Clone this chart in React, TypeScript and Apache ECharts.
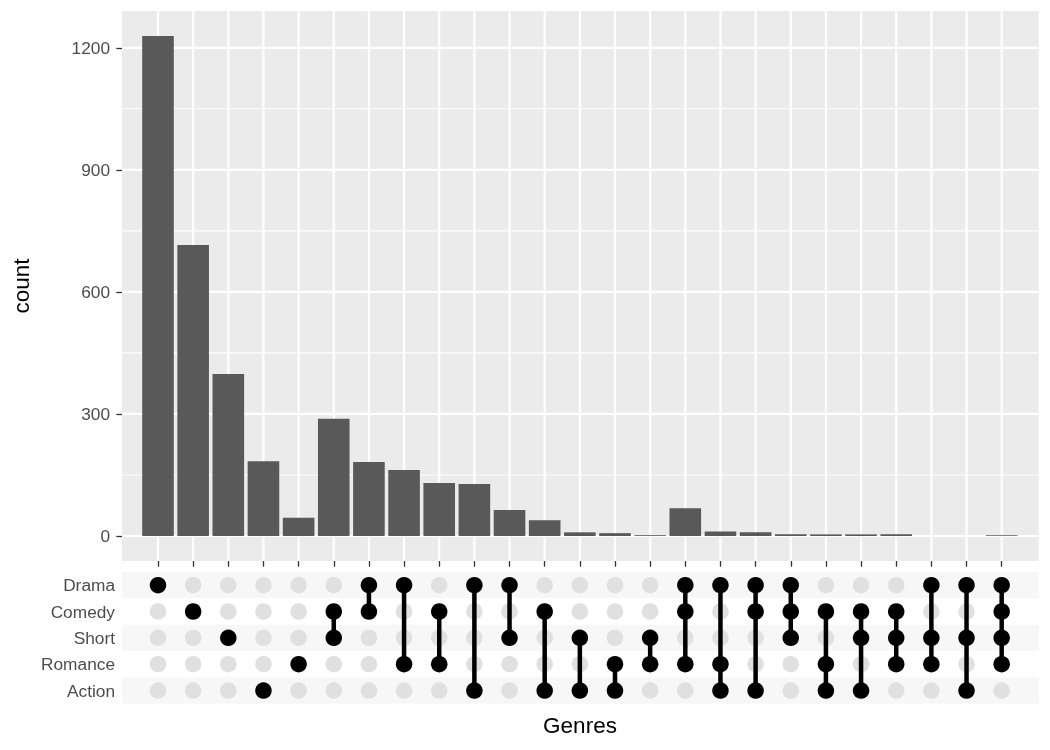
import React, { useEffect, useRef } from 'react';
import * as echarts from 'echarts';

const genres = ['Drama', 'Comedy', 'Short', 'Romance', 'Action'];
const counts = [1229, 715, 398, 184, 45, 288, 182, 162, 130, 128, 64, 39, 9, 7, 2, 68, 11, 9, 4, 4, 4, 4, 0, 0, 2];
const combos = [
  ['Drama'], ['Comedy'], ['Short'], ['Action'], ['Romance'],
  ['Comedy', 'Short'], ['Drama', 'Comedy'], ['Drama', 'Romance'], ['Comedy', 'Romance'],
  ['Drama', 'Action'], ['Drama', 'Short'], ['Comedy', 'Action'], ['Short', 'Action'],
  ['Romance', 'Action'], ['Short', 'Romance'],
  ['Drama', 'Comedy', 'Romance'], ['Drama', 'Romance', 'Action'], ['Drama', 'Comedy', 'Action'],
  ['Drama', 'Comedy', 'Short'], ['Comedy', 'Romance', 'Action'], ['Comedy', 'Short', 'Action'],
  ['Comedy', 'Short', 'Romance'], ['Drama', 'Short', 'Romance'], ['Drama', 'Short', 'Action'],
  ['Drama', 'Comedy', 'Short', 'Romance'],
];
const yTicks = [0, 300, 600, 900, 1200];
const yMinor = [150, 450, 750, 1050];

const FONT = '"Liberation Sans", Arial, Helvetica, sans-serif';

export default function App() {
  const ref = useRef<HTMLDivElement>(null);
  useEffect(() => {
    if (!ref.current) return;
    const chart = echarts.init(ref.current, null, { renderer: 'svg' });
    const cols = counts.map((_, i) => i + 1);
    const xMin = -0.024;
    const xMax = 26.053;

    const grayDots: number[][] = [];
    const blackDots: number[][] = [];
    const segs: number[][] = [];
    combos.forEach((set, i) => {
      const idx: number[] = [];
      genres.forEach((g, j) => {
        if (set.includes(g)) { blackDots.push([i + 1, j]); idx.push(j); }
        else grayDots.push([i + 1, j]);
      });
      if (idx.length > 1) segs.push([i + 1, Math.min(...idx), Math.max(...idx)]);
    });

    const option: any = {
      animation: false,
      textStyle: { fontFamily: FONT },
      grid: [
        { left: 122, top: 11, width: 916.7, height: 550, show: true, backgroundColor: '#EBEBEB', borderWidth: 0 },
        { left: 122, top: 572, width: 916.7, height: 131.7, show: false },
      ],
      xAxis: [
        {
          type: 'value', gridIndex: 0, min: xMin, max: xMax,
          axisLine: { show: false, onZero: false },
          axisTick: { show: true, customValues: cols, length: 5.7, lineStyle: { color: '#333333', width: 1.3 } },
          axisLabel: { show: false },
          splitLine: { show: false },
        },
        {
          type: 'value', gridIndex: 1, min: xMin, max: xMax, show: false,
          axisLine: { onZero: false }, splitLine: { show: false },
        },
      ],
      yAxis: [
        {
          type: 'value', gridIndex: 0, min: -61.45, max: 1290.45,
          axisLine: { show: false, onZero: false },
          axisTick: { show: true, customValues: yTicks, length: 5.7, lineStyle: { color: '#333333', width: 1.3 } },
          axisLabel: {
            show: true, customValues: yTicks, margin: 12, color: '#4D4D4D', fontSize: 17.3, fontFamily: FONT,
            formatter: (v: number) => String(v),
          },
          splitLine: { show: false },
        },
        {
          type: 'category', gridIndex: 1, data: genres, inverse: true,
          axisLine: { show: false }, axisTick: { show: false },
          axisLabel: { color: '#4D4D4D', fontSize: 17.3, margin: 7, fontFamily: FONT },
          splitLine: { show: false },
          splitArea: { show: true, areaStyle: { color: ['#F7F7F7', '#FFFFFF'] } },
        },
      ],
      series: [
        {
          type: 'custom', xAxisIndex: 0, yAxisIndex: 0, silent: true, z: 1,
          data: cols.map((c) => [c, 0]),
          encode: { x: 0, y: 1 },
          renderItem: (params: any, api: any) => {
            const cs = params.coordSys;
            const x = api.coord([api.value(0), 0])[0];
            return { type: 'line', shape: { x1: x, y1: cs.y, x2: x, y2: cs.y + cs.height }, style: { stroke: '#FFFFFF', lineWidth: 2.2 } };
          },
        },
        {
          type: 'custom', xAxisIndex: 0, yAxisIndex: 0, silent: true, z: 1,
          data: [...yTicks.map((v) => [1, v, 2.2]), ...yMinor.map((v) => [1, v, 1.1])],
          encode: { x: 0, y: 1 },
          renderItem: (params: any, api: any) => {
            const cs = params.coordSys;
            const y = api.coord([1, api.value(1)])[1];
            return { type: 'line', shape: { x1: cs.x, y1: y, x2: cs.x + cs.width, y2: y }, style: { stroke: '#FFFFFF', lineWidth: api.value(2) } };
          },
        },
        {
          type: 'bar', xAxisIndex: 0, yAxisIndex: 0, z: 3,
          data: counts.map((v, i) => [i + 1, v]),
          barWidth: 31.6,
          itemStyle: { color: '#595959' },
          silent: true,
        },
        {
          type: 'scatter', xAxisIndex: 1, yAxisIndex: 1, z: 2,
          data: grayDots, symbolSize: 16.5, itemStyle: { color: '#E0E0E0', opacity: 1 }, silent: true,
        },
        {
          type: 'custom', xAxisIndex: 1, yAxisIndex: 1, z: 3, silent: true,
          data: segs,
          encode: { x: 0, y: [1, 2] },
          renderItem: (params: any, api: any) => {
            const p1 = api.coord([api.value(0), api.value(1)]);
            const p2 = api.coord([api.value(0), api.value(2)]);
            return { type: 'line', shape: { x1: p1[0], y1: p1[1], x2: p2[0], y2: p2[1] }, style: { stroke: '#000000', lineWidth: 4.5 } };
          },
        },
        {
          type: 'scatter', xAxisIndex: 1, yAxisIndex: 1, z: 4,
          data: blackDots, symbolSize: 16.5, itemStyle: { color: '#000000', opacity: 1 }, silent: true,
        },
      ],
      graphic: [
        {
          type: 'text', x: 21, y: 286, rotation: Math.PI / 2,
          style: { text: 'count', fill: '#000000', fontSize: 22.5, fontFamily: FONT, align: 'center', verticalAlign: 'middle' },
        },
        {
          type: 'text', x: 580, y: 725,
          style: { text: 'Genres', fill: '#000000', fontSize: 22.5, fontFamily: FONT, align: 'center', verticalAlign: 'middle' },
        },
      ],
    };
    chart.setOption(option);
    return () => chart.dispose();
  }, []);
  return <div ref={ref} style={{ position: 'fixed', left: 0, top: 0, width: 1050, height: 750 }} />;
}
